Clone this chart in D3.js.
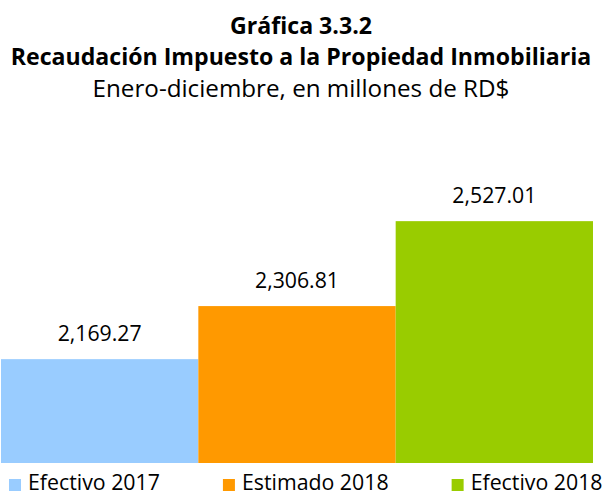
<!DOCTYPE html>
<html>
<head>
<meta charset="utf-8">
<script src="https://cdn.jsdelivr.net/npm/d3@7"></script>
<style>
  html, body { margin: 0; padding: 0; background: #fff; }
  svg { display: block; font-family: "Open Sans", sans-serif; }
</style>
</head>
<body>
<div id="chart"></div>
<script>
// data
const categories = ["Efectivo 2017", "Estimado 2018", "Efectivo 2018"];
const values = [2169.27, 2306.81, 2527.01];
const colors = ["#99CCFF", "#FF9900", "#99CC00"];
const titleLines = [
  "Gráfica 3.3.2",
  "Recaudación Impuesto a la Propiedad Inmobiliaria",
  "Enero-diciembre, en millones de RD$",
];

const width = 602, height = 495;
const svg = d3.select("#chart").append("svg")
  .attr("width", width).attr("height", height);

// scale a text's font-size so it spans the wanted width
const fitWidth = (sel, target) => {
  const w = sel.node().getComputedTextLength();
  const fs = parseFloat(sel.attr("font-size"));
  const size = fs * target / w;
  sel.attr("font-size", size);
  return size;
};

// --- title ---
const titleSpec = [
  { y: 34, bold: true, w: 142 },
  { y: 65, bold: true, w: 581 },
  { y: 97, bold: false, w: 417 },
];
titleLines.forEach((t, i) => {
  const s = titleSpec[i];
  const txt = svg.append("text")
    .attr("x", width / 2).attr("y", s.y)
    .attr("text-anchor", "middle")
    .attr("font-size", 20)
    .attr("font-weight", s.bold ? "bold" : "normal")
    .attr("fill", "#000")
    .text(t);
  fitWidth(txt, s.w);
});

// --- bars ---
const x = d3.scaleBand().domain(categories).range([1, 593]).padding(0);
const y = d3.scaleLinear().domain([1900, 2600]).range([463, 193]);
const fmt = d3.format(",.2f");

svg.append("g").selectAll("rect")
  .data(values)
  .join("rect")
  .attr("x", (d, i) => x(categories[i]))
  .attr("y", (d) => y(d))
  .attr("width", x.bandwidth())
  .attr("height", (d) => y.range()[0] - y(d))
  .attr("fill", (d, i) => colors[i]);

const labels = svg.append("g").selectAll("text")
  .data(values)
  .join("text")
  .attr("x", (d, i) => x(categories[i]) + x.bandwidth() / 2)
  .attr("y", (d) => y(d) - 18.5)
  .attr("text-anchor", "middle")
  .attr("font-size", 20)
  .attr("fill", "#000")
  .text((d) => fmt(d));
const labelSize = fitWidth(d3.select(labels.node()), 84);
labels.attr("font-size", labelSize);

// --- legend ---
const legend = svg.append("g");
let lx = 9;
let legendSize = null;
categories.forEach((c, i) => {
  legend.append("rect")
    .attr("x", lx).attr("y", 479)
    .attr("width", 12).attr("height", 12)
    .attr("fill", colors[i]);
  const t = legend.append("text")
    .attr("x", lx + 19).attr("y", 490)
    .attr("font-size", legendSize || 18)
    .attr("fill", "#000")
    .text(c);
  if (!legendSize) legendSize = fitWidth(t, 132);
  lx = lx + 19 + t.node().getComputedTextLength() + 63;
});
</script>
</body>
</html>
